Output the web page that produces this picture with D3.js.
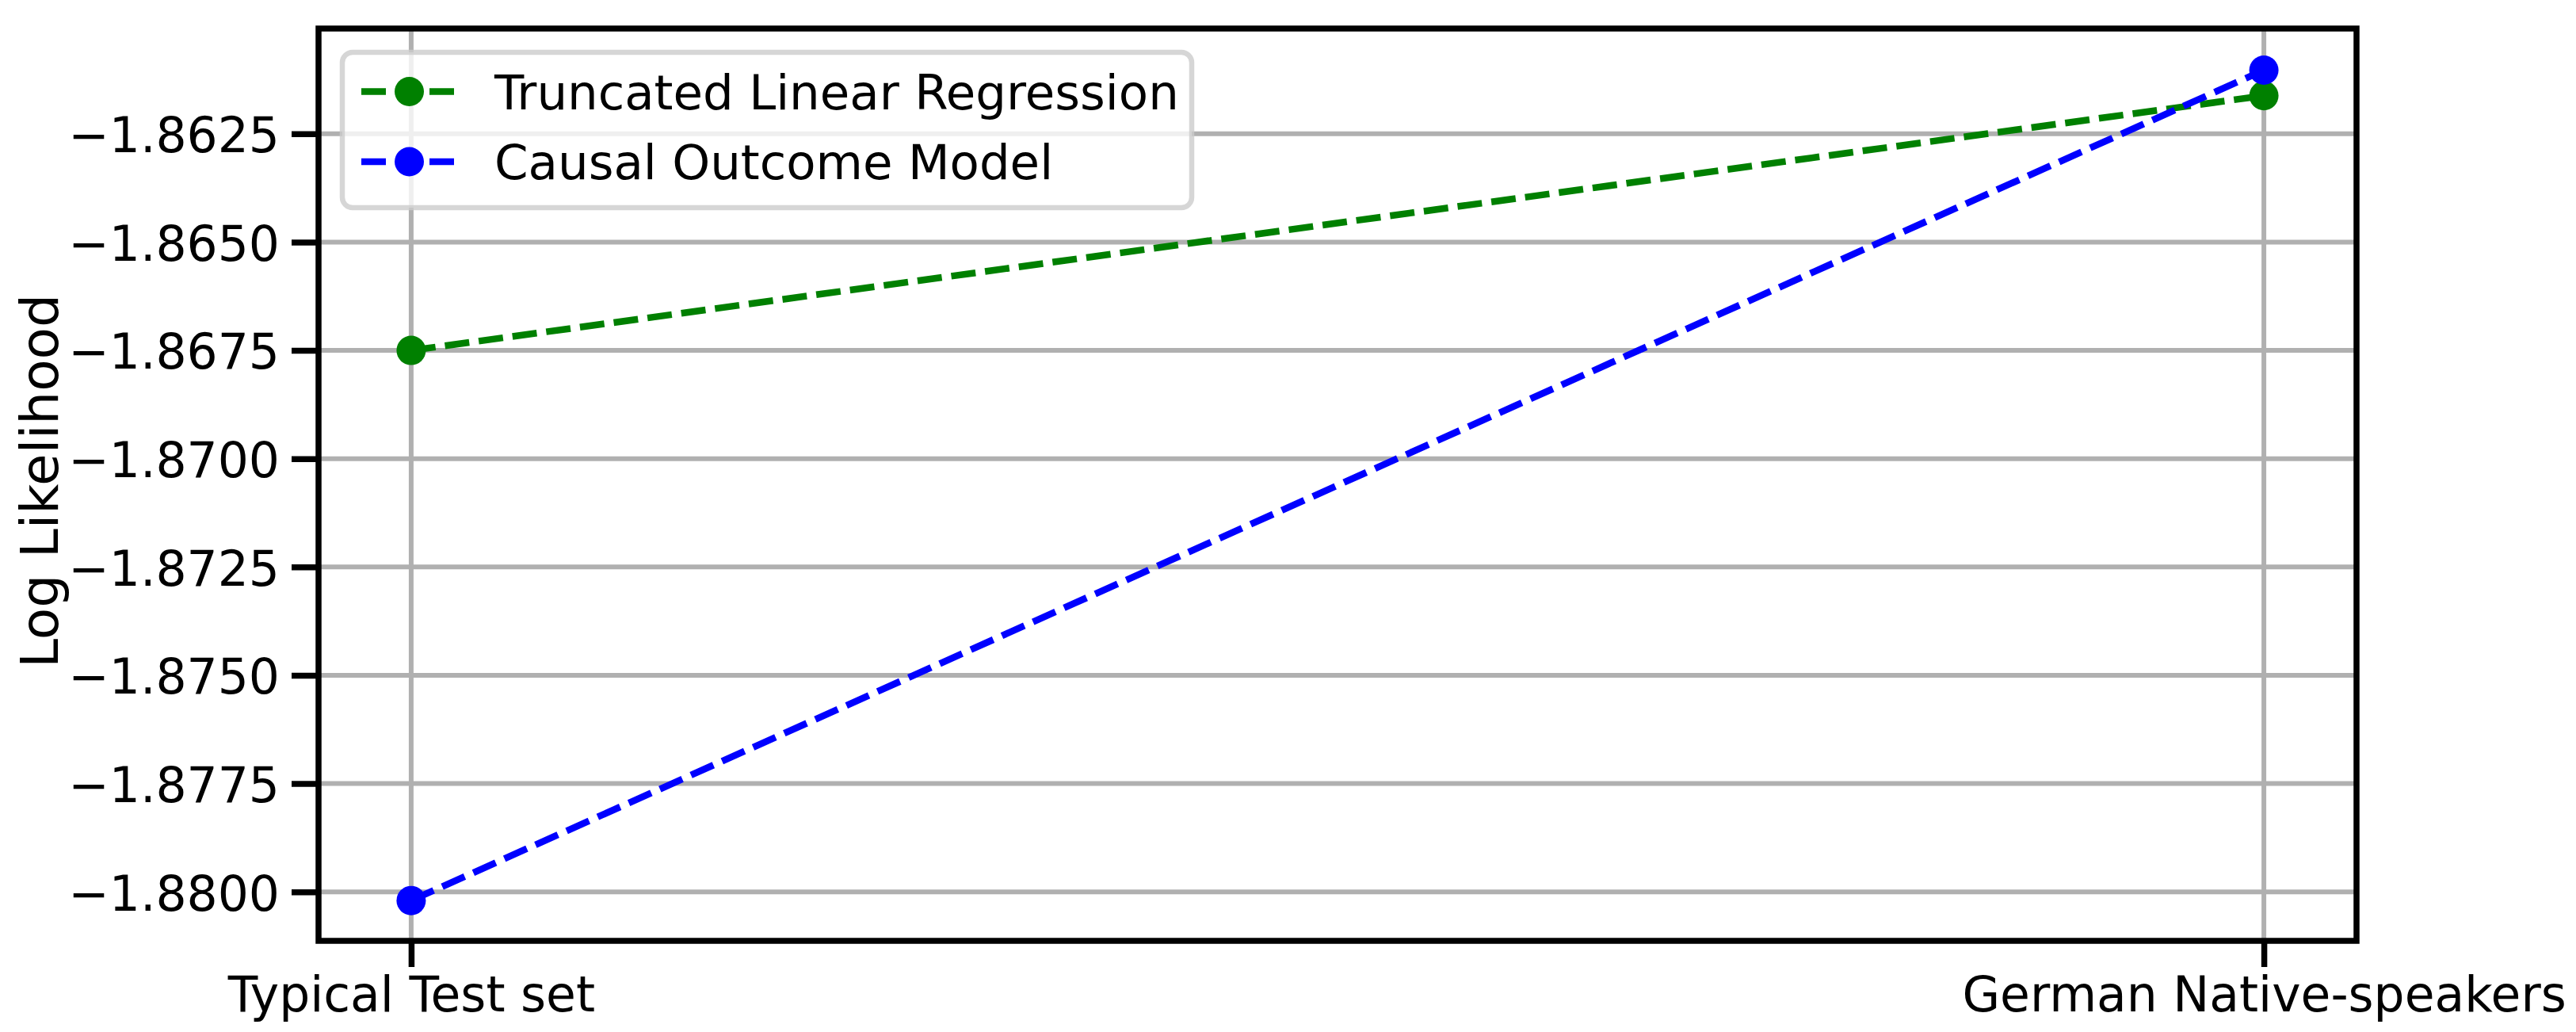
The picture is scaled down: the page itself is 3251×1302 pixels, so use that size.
<!DOCTYPE html>
<html><head><meta charset="utf-8">
<script src="https://cdn.jsdelivr.net/npm/d3@7"></script>
<style>html,body{margin:0;padding:0;background:#fff}</style>
</head><body>
<script>
// ---- data ----
const categories = ["Typical Test set", "German Native-speakers"];
const seriesNames = ["Truncated Linear Regression", "Causal Outcome Model"];
const truncatedValues = [-1.86750, -1.86162];
const causalValues = [-1.88020, -1.86103];
const seriesColors = ["#008000", "#0000ff"];
const yTickValues = [-1.8625, -1.8650, -1.8675, -1.8700, -1.8725, -1.8750, -1.8775, -1.8800];
const yTickLabels = ["−1.8625", "−1.8650", "−1.8675", "−1.8700", "−1.8725", "−1.8750", "−1.8775", "−1.8800"];
const yLabel = "Log Likelihood";

// ---- layout ----
const W = 3251, H = 1302;
const L = 402, R = 2974, T = 36, B = 1187;
const FONT = "DejaVu Sans";

const svg = d3.select("body").append("svg")
  .attr("width", W).attr("height", H)
  .style("display", "block");
svg.append("rect").attr("width", W).attr("height", H).attr("fill", "#fff");

const x = d3.scaleLinear().domain([-0.05, 1.05]).range([L, R]);
const y = d3.scaleLinear().domain([-1.88113, -1.86007]).range([B, T]);

// grid
const grid = svg.append("g");
grid.selectAll("line.h").data(yTickValues).join("line")
  .attr("x1", L).attr("x2", R)
  .attr("y1", d => y(d)).attr("y2", d => y(d))
  .attr("stroke", "#b0b0b0").attr("stroke-width", 6);
grid.selectAll("line.v").data(categories).join("line")
  .attr("x1", (d, i) => x(i)).attr("x2", (d, i) => x(i))
  .attr("y1", T).attr("y2", B)
  .attr("stroke", "#b0b0b0").attr("stroke-width", 6);

// series
const series = [truncatedValues, causalValues];
const line = d3.line().x((d, i) => x(i)).y(d => y(d));
series.forEach((vals, s) => {
  svg.append("path").datum(vals)
    .attr("d", line)
    .attr("fill", "none")
    .attr("stroke", seriesColors[s])
    .attr("stroke-width", 8.5)
    .attr("stroke-dasharray", "31,12");
  svg.append("g").selectAll("circle").data(vals).join("circle")
    .attr("cx", (d, i) => x(i)).attr("cy", d => y(d))
    .attr("r", 18.5).attr("fill", seriesColors[s]);
});

// spines
svg.append("rect")
  .attr("x", L).attr("y", T).attr("width", R - L).attr("height", B - T)
  .attr("fill", "none").attr("stroke", "#000").attr("stroke-width", 7.5);

// y axis
const yAxis = d3.axisLeft(y).tickValues(yTickValues)
  .tickFormat((d, i) => yTickLabels[i]).tickSize(34).tickPadding(15);
const gy = svg.append("g").attr("transform", `translate(${L},0)`).call(yAxis);
gy.select(".domain").remove();
gy.selectAll(".tick line").attr("stroke", "#000").attr("stroke-width", 7.5);
gy.selectAll(".tick text").attr("font-family", FONT).attr("font-size", 61.5)
  .attr("fill", "#000").attr("dy", "0.37em");

// x axis
const xAxis = d3.axisBottom(x).tickValues([0, 1])
  .tickFormat(i => categories[i]).tickSize(33).tickPadding(12);
const gx = svg.append("g").attr("transform", `translate(0,${B})`).call(xAxis);
gx.select(".domain").remove();
gx.selectAll(".tick line").attr("stroke", "#000").attr("stroke-width", 7.5);
gx.selectAll(".tick text").attr("font-family", FONT).attr("font-size", 61.5)
  .attr("fill", "#000").attr("y", 89).attr("dy", "0");

// y label
svg.append("text")
  .attr("transform", `translate(73,607) rotate(-90)`)
  .attr("text-anchor", "middle")
  .attr("font-family", FONT).attr("font-size", 66).attr("fill", "#000")
  .text(yLabel);

// legend
const lg = svg.append("g");
lg.append("rect")
  .attr("x", 432).attr("y", 66).attr("width", 1072).attr("height", 196)
  .attr("rx", 13).attr("ry", 13)
  .attr("fill", "#fff").attr("fill-opacity", 0.8)
  .attr("stroke", "#cccccc").attr("stroke-opacity", 0.8).attr("stroke-width", 6.5);
const legendRows = [115.5, 204];
seriesNames.forEach((name, s) => {
  const ly = legendRows[s];
  lg.append("line")
    .attr("x1", 456).attr("x2", 574).attr("y1", ly).attr("y2", ly)
    .attr("stroke", seriesColors[s]).attr("stroke-width", 8.5)
    .attr("stroke-dasharray", "31,12");
  lg.append("circle").attr("cx", 516.5).attr("cy", ly).attr("r", 18.5)
    .attr("fill", seriesColors[s]);
  lg.append("text")
    .attr("x", 624).attr("y", ly + 22)
    .attr("font-family", FONT).attr("font-size", 61).attr("fill", "#000")
    .text(name);
});
</script>
</body></html>
